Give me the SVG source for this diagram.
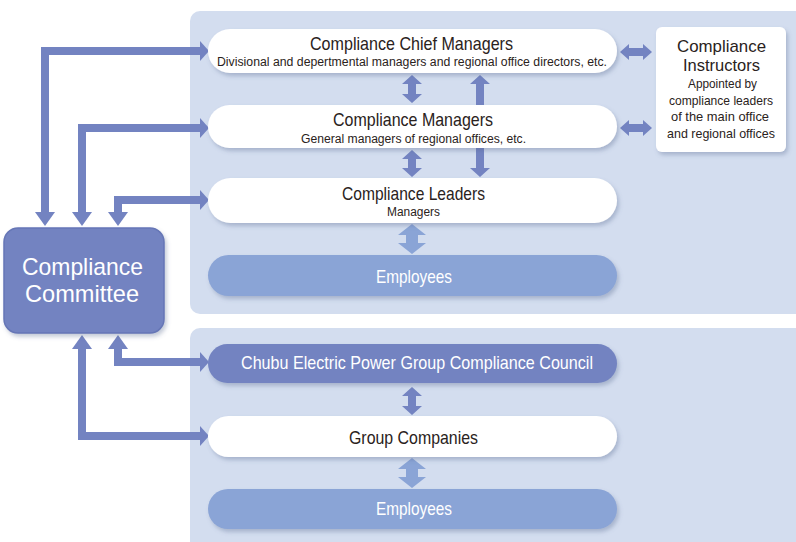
<svg xmlns="http://www.w3.org/2000/svg" width="796" height="542" viewBox="0 0 796 542">
<defs>
<filter id="sh" x="-10%" y="-30%" width="120%" height="170%">
<feDropShadow dx="2" dy="3" stdDeviation="2" flood-color="#55658f" flood-opacity="0.35"/>
</filter>
<style>
.panel{fill:#d3ddef}
.pw{fill:#ffffff;filter:url(#sh)}
.pl{fill:#8aa4d6;filter:url(#sh)}
.pd{fill:#7383c1;filter:url(#sh)}
.t{font-family:"Liberation Sans Narrow","Liberation Sans",Arial,sans-serif;text-anchor:middle;fill:#2a2220}
.w{fill:#ffffff}
.h{font-size:19px}
.s{font-size:12.5px}
.ln{fill:none;stroke:#7383c1;stroke-width:8;stroke-linejoin:miter}
.ad{fill:#7383c1}
.al{fill:#8aa4d6}
</style>
</defs>
<rect width="796" height="542" fill="#ffffff"/>
<rect class="panel" x="190" y="11" width="620" height="303" rx="10"/>
<rect class="panel" x="190" y="328" width="620" height="230" rx="10"/>

<g id="connectors">
<path class="ln" d="M45,213 V51 H201"/>
<polygon class="ad" points="35,212 55,212 45,226"/>
<polygon class="ad" points="200,41 209,51 200,61"/>
<path class="ln" d="M82,213 V128 H201"/>
<polygon class="ad" points="72,212 92,212 82,226"/>
<polygon class="ad" points="200,118 209,128 200,138"/>
<path class="ln" d="M118,213 V200 H201"/>
<polygon class="ad" points="108,212 128,212 118,226"/>
<polygon class="ad" points="200,190 209,200 200,210"/>
<path class="ln" d="M118,348 V362 H201"/>
<polygon class="ad" points="108,349 128,349 118,335"/>
<polygon class="ad" points="200,352 209,362 200,372"/>
<path class="ln" d="M82,348 V436 H201"/>
<polygon class="ad" points="72,349 92,349 82,335"/>
<polygon class="ad" points="200,426 209,436 200,446"/>
<polygon class="ad" points="412,75 422,84 416,84 416,94 422,94 412,103 402,94 408,94 408,84 402,84"/>
<polygon class="ad" points="412,150 422,159 416,159 416,168 422,168 412,177 402,168 408,168 408,159 402,159"/>
<polygon class="ad" points="480,75 490,84 484,84 484,106 476,106 476,84 470,84"/>
<polygon class="ad" points="476,147 484,147 484,168 490,168 480,177 470,168 476,168"/>
<polygon class="al" points="412,224 426,235 418,235 418,243 426,243 412,254 398,243 406,243 406,235 398,235"/>
<polygon class="ad" points="412,387 422,396 416,396 416,406 422,406 412,415 402,406 408,406 408,396 402,396"/>
<polygon class="al" points="412,458 426,469 418,469 418,477 426,477 412,488 398,477 406,477 406,469 398,469"/>
<polygon class="ad" points="620,52 629,44 629,48 643,48 643,44 652,52 643,60 643,56 629,56 629,60"/>
<polygon class="ad" points="620,128 629,120 629,124 643,124 643,120 652,128 643,136 643,132 629,132 629,136"/>
</g>

<g id="committee">
<rect x="4" y="228" width="160" height="105" rx="14" fill="#7383c1" stroke="#6676b6" stroke-width="1.5" filter="url(#sh)"/>
<text class="t w" x="82.5" y="275" font-size="24" textLength="121" lengthAdjust="spacingAndGlyphs">Compliance</text>
<text class="t w" x="82" y="302" font-size="24" textLength="114" lengthAdjust="spacingAndGlyphs">Committee</text>
</g>

<g id="chief-managers">
<rect class="pw" x="208" y="29" width="409" height="44" rx="22"/>
<text class="t h" x="411.5" y="50" textLength="203" lengthAdjust="spacingAndGlyphs">Compliance Chief Managers</text>
<text class="t s" x="412" y="66" textLength="390" lengthAdjust="spacingAndGlyphs">Divisional and depertmental managers and regional office directors, etc.</text>
</g>

<g id="managers">
<rect class="pw" x="208" y="105" width="409" height="43" rx="21.5"/>
<text class="t h" x="413" y="126" textLength="160" lengthAdjust="spacingAndGlyphs">Compliance Managers</text>
<text class="t s" x="413.5" y="143" textLength="225" lengthAdjust="spacingAndGlyphs">General managers of regional offices, etc.</text>
</g>

<g id="leaders">
<rect class="pw" x="208" y="178" width="409" height="45" rx="22.5"/>
<text class="t h" x="413.5" y="200" textLength="143" lengthAdjust="spacingAndGlyphs">Compliance Leaders</text>
<text class="t s" x="413.5" y="216" textLength="53" lengthAdjust="spacingAndGlyphs">Managers</text>
</g>

<g id="employees-1">
<rect class="pl" x="208" y="255" width="409" height="41" rx="20.5"/>
<text class="t h w" x="414" y="283" font-size="18" textLength="76" lengthAdjust="spacingAndGlyphs">Employees</text>
</g>

<g id="instructors">
<rect x="656" y="27" width="130" height="125" rx="6" fill="#ffffff" filter="url(#sh)"/>
<text class="t" x="721.5" y="52" font-size="17" textLength="89" lengthAdjust="spacingAndGlyphs">Compliance</text>
<text class="t" x="721.5" y="71" font-size="17" textLength="77" lengthAdjust="spacingAndGlyphs">Instructors</text>
<text class="t" x="722.5" y="88" font-size="13.5" textLength="69" lengthAdjust="spacingAndGlyphs">Appointed by</text>
<text class="t" x="721" y="104.5" font-size="13.5" textLength="104" lengthAdjust="spacingAndGlyphs">compliance leaders</text>
<text class="t" x="720" y="121" font-size="13.5" textLength="98" lengthAdjust="spacingAndGlyphs">of the main office</text>
<text class="t" x="721" y="138" font-size="13.5" textLength="108" lengthAdjust="spacingAndGlyphs">and regional offices</text>
</g>

<g id="group-council">
<rect class="pd" x="208" y="344" width="409" height="39" rx="19.5"/>
<text class="t h w" x="417" y="369" font-size="18" textLength="352" lengthAdjust="spacingAndGlyphs">Chubu Electric Power Group Compliance Council</text>
</g>

<g id="group-companies">
<rect class="pw" x="208" y="416" width="409" height="41" rx="20.5"/>
<text class="t h" x="413.5" y="444" font-size="18" textLength="129" lengthAdjust="spacingAndGlyphs">Group Companies</text>
</g>

<g id="employees-2">
<rect class="pl" x="208" y="489" width="409" height="40" rx="20"/>
<text class="t h w" x="414" y="515" font-size="18" textLength="76" lengthAdjust="spacingAndGlyphs">Employees</text>
</g>
</svg>
